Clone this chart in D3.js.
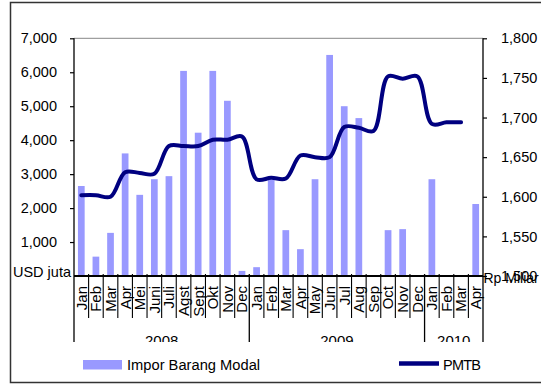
<!DOCTYPE html>
<html><head><meta charset="utf-8">
<script src="https://cdn.jsdelivr.net/npm/d3@7"></script>
<style>
body{margin:0;background:#fff;}
svg text{font-family:"Liberation Sans",Arial,sans-serif;fill:#000;}
</style></head>
<body><svg id="c" width="541" height="385"></svg>
<script>
const months = ["Jan","Feb","Mar","Apr","Mei","Juni","Juli","Agst","Sept","Okt","Nov","Dec",
                "Jan","Feb","Mar","Apr","May","Jun","Jul","Aug","Sep","Oct","Nov","Dec",
                "Jan","Feb","Mar","Apr"];
const years = ["2008","2009","2010"];
const yearStart = [0,12,24];
const yearEnd = [12,24,28];
// Impor Barang Modal (USD juta)
const impor = [2650,570,1270,3610,2390,2850,2940,6040,4220,6040,5160,150,
               260,2840,1350,790,2850,6510,5000,4650,null,1350,1380,null,
               2850,null,null,2120];
// PMTB (Rp Miliar)
const pmtb = [1602,1602,1600,1631,1630,1629,1664,1664,1664,1672,1672,1676,
              1622,1624,1623,1652,1650,1650,1688,1687,1683,1752,1749,1752,
              1692,1694,1694,null];
const leftTicks = [1000,2000,3000,4000,5000,6000,7000];
const rightTicks = [1500,1550,1600,1650,1700,1750,1800];
const seriesNames = ["Impor Barang Modal","PMTB"];
const leftUnit = "USD juta", rightUnit = "Rp Miliar";

const svg = d3.select("#c");
const L = 74, R = 483, T = 38.3, B = 276;
const x = d3.scaleBand().domain(d3.range(months.length)).range([L,R]).padding(0);
const bw = x.bandwidth();
const cx = i => x(i) + bw/2;
const yL = d3.scaleLinear().domain([0,7000]).range([B,T]);
const yR = d3.scaleLinear().domain([1500,1800]).range([B,T]);

// outer border
svg.append("rect").attr("x",10.5).attr("y",2.5).attr("width",545).attr("height",380)
  .attr("fill","none").attr("stroke","#333").attr("stroke-width",1.5);

// plot top line
svg.append("line").attr("x1",L).attr("x2",R).attr("y1",T).attr("y2",T)
  .attr("stroke","#888").attr("stroke-width",1);

// bars
const bwBar = bw*0.46;
svg.append("g").selectAll("rect").data(impor.map((v,i)=>({v,i})).filter(d=>d.v!=null))
  .join("rect")
  .attr("x",d=>cx(d.i)-bwBar/2).attr("width",bwBar)
  .attr("y",d=>yL(d.v)).attr("height",d=>yL(0)-yL(d.v))
  .attr("fill","#9999FF");

// line
const line = d3.line().defined(d=>d.v!=null).x(d=>cx(d.i)).y(d=>yR(d.v))
  .curve(d3.curveCatmullRom.alpha(0.5));
svg.append("path").datum(pmtb.map((v,i)=>({v,i})))
  .attr("d",line).attr("fill","none").attr("stroke","#000080")
  .attr("stroke-width",4).attr("stroke-linejoin","round").attr("stroke-linecap","round");

// left axis
const gl = svg.append("g").attr("transform",`translate(${L},0)`)
  .call(d3.axisLeft(yL).tickValues(leftTicks).tickSize(4).tickPadding(13).tickFormat(d3.format(",")));
gl.select(".domain").remove();
gl.selectAll("text").style("font-size","14.5px").style("font-family","Liberation Sans, Arial");
gl.selectAll("line").attr("stroke","#000").attr("stroke-width",1.2);

// right axis
const gr = svg.append("g").attr("transform",`translate(${R},0)`)
  .call(d3.axisRight(yR).tickValues(rightTicks).tickSize(4).tickPadding(14).tickFormat(d3.format(",")));
gr.select(".domain").remove();
gr.selectAll("text").style("font-size","14.5px").style("font-family","Liberation Sans, Arial");
gr.selectAll("line").attr("stroke","#000").attr("stroke-width",1.2);

// vertical axis lines extended into category area
const ax = svg.append("g").attr("stroke","#000").attr("stroke-width",1.3);
ax.append("line").attr("x1",L).attr("x2",L).attr("y1",T).attr("y2",342);
ax.append("line").attr("x1",R).attr("x2",R).attr("y1",T).attr("y2",342);
// baseline
ax.append("line").attr("x1",L).attr("x2",R).attr("y1",B).attr("y2",B).attr("stroke-width",2);
// month separators
d3.range(1,months.length).forEach(i=>{
  const isYear = yearStart.includes(i);
  ax.append("line").attr("x1",x(i)).attr("x2",x(i)).attr("y1",B-2).attr("y2",isYear?342:318)
    .attr("stroke-width",isYear?1.3:1.1);
});

// month labels
svg.append("g").selectAll("text").data(months).join("text")
  .attr("transform",(d,i)=>`translate(${cx(i)},286) rotate(-90)`)
  .attr("text-anchor","end").attr("dy","0.36em")
  .style("font-size","15px").text(d=>d);

// year labels (clipped)
svg.append("clipPath").attr("id","yc").append("rect").attr("x",0).attr("y",300).attr("width",541).attr("height",42);
svg.append("g").attr("clip-path","url(#yc)").selectAll("text").data(years).join("text")
  .attr("x",(d,i)=>(x(yearStart[i]) + (yearEnd[i]<months.length? x(yearEnd[i]) : R))/2)
  .attr("y",346).attr("text-anchor","middle").style("font-size","15px").text(d=>d);

// unit labels
svg.append("text").attr("x",71).attr("y",277).attr("text-anchor","end")
  .style("font-size","14.5px").text(leftUnit);
svg.append("text").attr("x",483.5).attr("y",282.5)
  .style("font-size","14px").text(rightUnit);

// legend
svg.append("rect").attr("x",83).attr("y",360).attr("width",39).attr("height",9.5).attr("fill","#9999FF");
svg.append("text").attr("x",127).attr("y",369.5).style("font-size","14.7px").text(seriesNames[0]);
svg.append("line").attr("x1",399).attr("x2",439).attr("y1",363.5).attr("y2",363.5)
  .attr("stroke","#000080").attr("stroke-width",4.5);
svg.append("text").attr("x",443).attr("y",369.5).style("font-size","14.5px")
  .attr("textLength",38).text(seriesNames[1]);
</script></body></html>
